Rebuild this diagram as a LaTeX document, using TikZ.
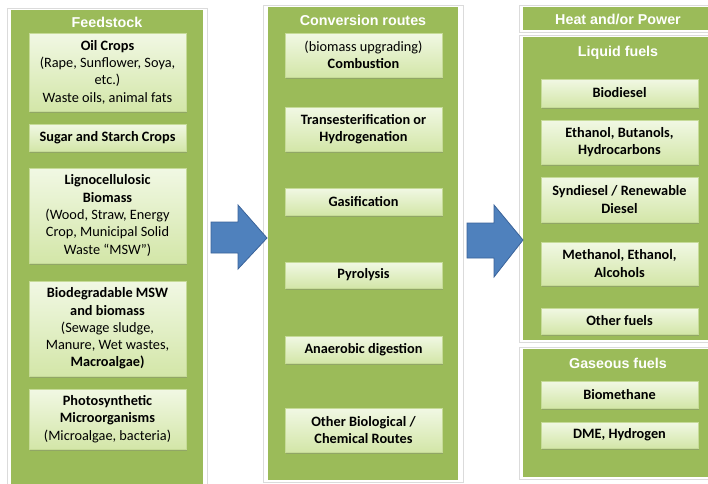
\documentclass[tikz,border=0pt]{standalone}
\usepackage{fontspec}
\setmainfont{Carlito}
\newfontfamily\headfont{Liberation Sans}
\usepackage{tikz}
\usetikzlibrary{shadows}

\definecolor{panelgreen}{HTML}{9BBB59}
\definecolor{boxtop}{HTML}{F1F8E4}
\definecolor{boxbot}{HTML}{D3E6A8}
\definecolor{boxline}{HTML}{C6DB98}
\definecolor{arrowblue}{HTML}{4F81BD}
\definecolor{arrowline}{HTML}{3A639A}

\tikzset{
  frame/.style={draw=black!14,fill=white,line width=0.9},
  panel/.style={fill=panelgreen,inner sep=0},
  ptitle/.style={text=white,inner sep=0,font=\headfont\bfseries\fontsize{14.3}{16}\selectfont},
  ibox/.style={draw=boxline,top color=boxtop,bottom color=boxbot,minimum width=157,
    inner sep=0,align=center,font=\bfseries\fontsize{14.3}{17.3}\selectfont,
    drop shadow={shadow xshift=1.2pt,shadow yshift=-2pt,opacity=0.35}},
  barrow/.style={fill=arrowblue,draw=arrowline,line width=0.8,line join=miter}
}

\begin{document}
\begin{tikzpicture}[x=1pt,y=-1pt]
\clip (0,0) rectangle (708,483);
\fill[white] (0,0) rectangle (708,483);
% panels
\draw[frame](7,8)rectangle(207,490);
\node[panel,minimum width=192,minimum height=474] (feed) at (107,247) {};
\draw[frame](263,5)rectangle(463,482);
\node[panel,minimum width=190,minimum height=473] (conv) at (363,243.5) {};
\draw[frame](519,5)rectangle(715,32);
\node[panel,minimum width=190,minimum height=23] (heat) at (618,18.5) {};
\draw[frame](519,35)rectangle(715,342);
\node[panel,minimum width=190,minimum height=303] (liquid) at (618,188.5) {};
\draw[frame](519,347)rectangle(715,479);
\node[panel,minimum width=190,minimum height=128] (gas) at (618,413) {};
% titles
\node[ptitle] (feedt) at (107,22) {Feedstock};
\node[ptitle] (convt) at (363,20.5) {Conversion routes};
\node[ptitle] (heatt) at (618,19.5) {Heat and/or Power};
\node[ptitle] (liquidt) at (618,53) {Liquid fuels};
\node[ptitle] (gast) at (618,363) {Gaseous fuels};
% feedstock
\node[ibox,minimum height=78] (oil) at (107.5,72) {Oil Crops\\{\mdseries(Rape, Sunflower, Soya,}\\{\mdseries etc.)}\\{\mdseries Waste oils, animal fats}};
\node[ibox,minimum height=27] (sugar) at (107.5,137.5) {Sugar and Starch Crops};
\node[ibox,minimum height=95] (ligno) at (107.5,215.5) {Lignocellulosic\\Biomass\\{\mdseries(Wood, Straw, Energy}\\{\mdseries Crop, Municipal Solid}\\{\mdseries Waste “MSW”)}};
\node[ibox,minimum height=95] (msw) at (107.5,328.5) {Biodegradable MSW\\and biomass\\{\mdseries(Sewage sludge,}\\{\mdseries Manure, Wet wastes,}\\Macroalgae)};
\node[ibox,minimum height=60] (photo) at (107.5,419) {Photosynthetic\\Microorganisms\\{\mdseries(Microalgae, bacteria)}};
% conversion routes
\node[ibox,minimum height=44] (comb) at (363.5,55) {{\mdseries(biomass upgrading)}\\Combustion};
\node[ibox,minimum height=44] (trans) at (363.5,129) {Transesterification or\\Hydrogenation};
\node[ibox,minimum height=27] (gasif) at (363.5,201.5) {Gasification};
\node[ibox,minimum height=26] (pyro) at (363.5,275) {Pyrolysis};
\node[ibox,minimum height=27] (anaer) at (363.5,349.5) {Anaerobic digestion};
\node[ibox,minimum height=44] (otherbio) at (363.5,430) {Other Biological /\\Chemical Routes};
% products
\node[ibox,minimum height=28] (biodiesel) at (619.5,93) {Biodiesel};
\node[ibox,minimum height=44] (ethanol) at (619.5,142) {Ethanol, Butanols,\\Hydrocarbons};
\node[ibox,minimum height=45] (syndiesel) at (619.5,199.5) {Syndiesel / Renewable\\Diesel};
\node[ibox,minimum height=43] (methanol) at (619.5,263.5) {Methanol, Ethanol,\\Alcohols};
\node[ibox,minimum height=26] (otherfuels) at (619.5,321) {Other fuels};
\node[ibox,minimum height=27] (biomethane) at (619.5,394.5) {Biomethane};
\node[ibox,minimum height=26] (dme) at (619.5,435) {DME, Hydrogen};
% block arrows
\draw[barrow](211,222)--(238,222)--(238,205)--(267,238)--(238,269)--(238,253)--(211,253)--cycle;
\draw[barrow](467,223)--(494,223)--(494,205)--(523,240)--(494,277)--(494,258)--(467,258)--cycle;
\end{tikzpicture}
\end{document}
